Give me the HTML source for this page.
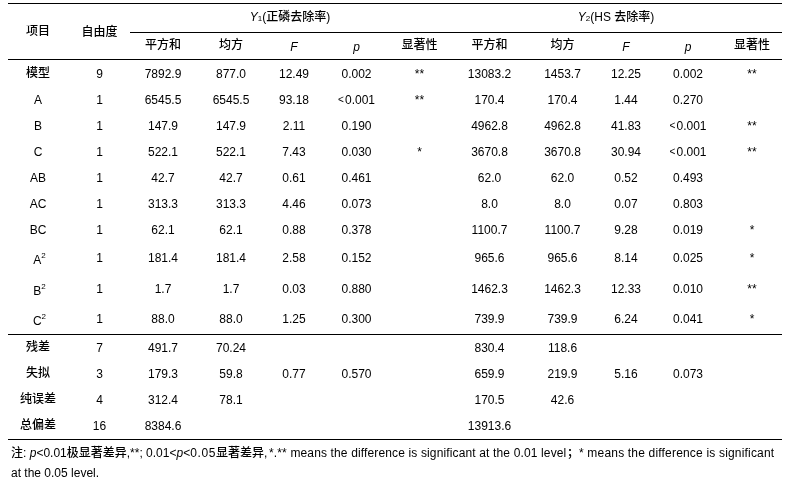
<!DOCTYPE html>
<html><head><meta charset="utf-8"><style>
html,body{margin:0;padding:0;background:#fff;width:787px;height:483px;overflow:hidden}
body{position:relative;font-family:"Liberation Sans","Noto Sans CJK SC",sans-serif;font-size:12px;color:#000}
.ln{position:absolute;height:1px;background:#000}
.t{position:absolute;width:120px;text-align:center;line-height:14px;white-space:nowrap;font-size:12px}
.k,.k2{font-family:"Noto Sans CJK SC",sans-serif;font-weight:500}
sup{font-size:8px;vertical-align:baseline;position:relative;top:-6px;line-height:0}
.sub{font-size:8px;vertical-align:baseline}
.lt{font-size:10px;vertical-align:1px;margin:0 1.2px 0 0;line-height:0}
.fs{position:absolute;white-space:nowrap;line-height:20px;font-size:12px}
.fs .k2{line-height:12px}
</style></head><body>
<div class="ln" style="left:8px;top:3px;width:774px"></div>
<div class="ln" style="left:130px;top:32px;width:652px"></div>
<div class="ln" style="left:8px;top:59px;width:774px"></div>
<div class="ln" style="left:8px;top:334px;width:774px"></div>
<div class="ln" style="left:8px;top:439px;width:774px"></div>
<div class="t k" style="left:-22.0px;top:23.0px">项目</div>
<div class="t k" style="left:39.5px;top:24.0px">自由度</div>
<div class="t" style="left:230.0px;top:9.0px"><i>Y</i><span class="sub">1</span>(<span class="k2">正磷去除率</span>)</div>
<div class="t" style="left:556.0px;top:9.0px"><i>Y</i><span class="sub">2</span>(HS <span class="k2">去除率</span>)</div>
<div class="t k" style="left:103.0px;top:37.0px">平方和</div>
<div class="t k" style="left:171.0px;top:37.0px">均方</div>
<div class="t" style="left:234.0px;top:40.0px"><i>F</i></div>
<div class="t" style="left:296.5px;top:40.0px"><i>p</i></div>
<div class="t k" style="left:359.5px;top:37.0px">显著性</div>
<div class="t k" style="left:429.5px;top:37.0px">平方和</div>
<div class="t k" style="left:502.5px;top:37.0px">均方</div>
<div class="t" style="left:566.0px;top:40.0px"><i>F</i></div>
<div class="t" style="left:628.0px;top:40.0px"><i>p</i></div>
<div class="t k" style="left:692.0px;top:37.0px">显著性</div>
<div class="t k" style="left:-22.0px;top:65.0px">模型</div>
<div class="t" style="left:39.5px;top:67.0px">9</div>
<div class="t" style="left:103.0px;top:67.0px">7892.9</div>
<div class="t" style="left:171.0px;top:67.0px">877.0</div>
<div class="t" style="left:234.0px;top:67.0px">12.49</div>
<div class="t" style="left:296.5px;top:67.0px">0.002</div>
<div class="t" style="left:359.5px;top:67.0px;">**</div>
<div class="t" style="left:429.5px;top:67.0px">13083.2</div>
<div class="t" style="left:502.5px;top:67.0px">1453.7</div>
<div class="t" style="left:566.0px;top:67.0px">12.25</div>
<div class="t" style="left:628.0px;top:67.0px">0.002</div>
<div class="t" style="left:692.0px;top:67.0px;">**</div>
<div class="t" style="left:-22.0px;top:93.0px">A</div>
<div class="t" style="left:39.5px;top:93.0px">1</div>
<div class="t" style="left:103.0px;top:93.0px">6545.5</div>
<div class="t" style="left:171.0px;top:93.0px">6545.5</div>
<div class="t" style="left:234.0px;top:93.0px">93.18</div>
<div class="t" style="left:296.5px;top:93.0px"><span class="lt">&lt;</span>0.001</div>
<div class="t" style="left:359.5px;top:93.0px;">**</div>
<div class="t" style="left:429.5px;top:93.0px">170.4</div>
<div class="t" style="left:502.5px;top:93.0px">170.4</div>
<div class="t" style="left:566.0px;top:93.0px">1.44</div>
<div class="t" style="left:628.0px;top:93.0px">0.270</div>
<div class="t" style="left:-22.0px;top:119.0px">B</div>
<div class="t" style="left:39.5px;top:119.0px">1</div>
<div class="t" style="left:103.0px;top:119.0px">147.9</div>
<div class="t" style="left:171.0px;top:119.0px">147.9</div>
<div class="t" style="left:234.0px;top:119.0px">2.11</div>
<div class="t" style="left:296.5px;top:119.0px">0.190</div>
<div class="t" style="left:429.5px;top:119.0px">4962.8</div>
<div class="t" style="left:502.5px;top:119.0px">4962.8</div>
<div class="t" style="left:566.0px;top:119.0px">41.83</div>
<div class="t" style="left:628.0px;top:119.0px"><span class="lt">&lt;</span>0.001</div>
<div class="t" style="left:692.0px;top:119.0px;">**</div>
<div class="t" style="left:-22.0px;top:145.0px">C</div>
<div class="t" style="left:39.5px;top:145.0px">1</div>
<div class="t" style="left:103.0px;top:145.0px">522.1</div>
<div class="t" style="left:171.0px;top:145.0px">522.1</div>
<div class="t" style="left:234.0px;top:145.0px">7.43</div>
<div class="t" style="left:296.5px;top:145.0px">0.030</div>
<div class="t" style="left:359.5px;top:145.0px;">*</div>
<div class="t" style="left:429.5px;top:145.0px">3670.8</div>
<div class="t" style="left:502.5px;top:145.0px">3670.8</div>
<div class="t" style="left:566.0px;top:145.0px">30.94</div>
<div class="t" style="left:628.0px;top:145.0px"><span class="lt">&lt;</span>0.001</div>
<div class="t" style="left:692.0px;top:145.0px;">**</div>
<div class="t" style="left:-22.0px;top:171.0px">AB</div>
<div class="t" style="left:39.5px;top:171.0px">1</div>
<div class="t" style="left:103.0px;top:171.0px">42.7</div>
<div class="t" style="left:171.0px;top:171.0px">42.7</div>
<div class="t" style="left:234.0px;top:171.0px">0.61</div>
<div class="t" style="left:296.5px;top:171.0px">0.461</div>
<div class="t" style="left:429.5px;top:171.0px">62.0</div>
<div class="t" style="left:502.5px;top:171.0px">62.0</div>
<div class="t" style="left:566.0px;top:171.0px">0.52</div>
<div class="t" style="left:628.0px;top:171.0px">0.493</div>
<div class="t" style="left:-22.0px;top:197.0px">AC</div>
<div class="t" style="left:39.5px;top:197.0px">1</div>
<div class="t" style="left:103.0px;top:197.0px">313.3</div>
<div class="t" style="left:171.0px;top:197.0px">313.3</div>
<div class="t" style="left:234.0px;top:197.0px">4.46</div>
<div class="t" style="left:296.5px;top:197.0px">0.073</div>
<div class="t" style="left:429.5px;top:197.0px">8.0</div>
<div class="t" style="left:502.5px;top:197.0px">8.0</div>
<div class="t" style="left:566.0px;top:197.0px">0.07</div>
<div class="t" style="left:628.0px;top:197.0px">0.803</div>
<div class="t" style="left:-22.0px;top:223.0px">BC</div>
<div class="t" style="left:39.5px;top:223.0px">1</div>
<div class="t" style="left:103.0px;top:223.0px">62.1</div>
<div class="t" style="left:171.0px;top:223.0px">62.1</div>
<div class="t" style="left:234.0px;top:223.0px">0.88</div>
<div class="t" style="left:296.5px;top:223.0px">0.378</div>
<div class="t" style="left:429.5px;top:223.0px">1100.7</div>
<div class="t" style="left:502.5px;top:223.0px">1100.7</div>
<div class="t" style="left:566.0px;top:223.0px">9.28</div>
<div class="t" style="left:628.0px;top:223.0px">0.019</div>
<div class="t" style="left:692.0px;top:223.0px;">*</div>
<div class="t" style="left:-20.5px;top:253.0px">A<sup>2</sup></div>
<div class="t" style="left:39.5px;top:251.0px">1</div>
<div class="t" style="left:103.0px;top:251.0px">181.4</div>
<div class="t" style="left:171.0px;top:251.0px">181.4</div>
<div class="t" style="left:234.0px;top:251.0px">2.58</div>
<div class="t" style="left:296.5px;top:251.0px">0.152</div>
<div class="t" style="left:429.5px;top:251.0px">965.6</div>
<div class="t" style="left:502.5px;top:251.0px">965.6</div>
<div class="t" style="left:566.0px;top:251.0px">8.14</div>
<div class="t" style="left:628.0px;top:251.0px">0.025</div>
<div class="t" style="left:692.0px;top:251.0px;">*</div>
<div class="t" style="left:-20.5px;top:284.0px">B<sup>2</sup></div>
<div class="t" style="left:39.5px;top:282.0px">1</div>
<div class="t" style="left:103.0px;top:282.0px">1.7</div>
<div class="t" style="left:171.0px;top:282.0px">1.7</div>
<div class="t" style="left:234.0px;top:282.0px">0.03</div>
<div class="t" style="left:296.5px;top:282.0px">0.880</div>
<div class="t" style="left:429.5px;top:282.0px">1462.3</div>
<div class="t" style="left:502.5px;top:282.0px">1462.3</div>
<div class="t" style="left:566.0px;top:282.0px">12.33</div>
<div class="t" style="left:628.0px;top:282.0px">0.010</div>
<div class="t" style="left:692.0px;top:282.0px;">**</div>
<div class="t" style="left:-20.5px;top:314.0px">C<sup>2</sup></div>
<div class="t" style="left:39.5px;top:312.0px">1</div>
<div class="t" style="left:103.0px;top:312.0px">88.0</div>
<div class="t" style="left:171.0px;top:312.0px">88.0</div>
<div class="t" style="left:234.0px;top:312.0px">1.25</div>
<div class="t" style="left:296.5px;top:312.0px">0.300</div>
<div class="t" style="left:429.5px;top:312.0px">739.9</div>
<div class="t" style="left:502.5px;top:312.0px">739.9</div>
<div class="t" style="left:566.0px;top:312.0px">6.24</div>
<div class="t" style="left:628.0px;top:312.0px">0.041</div>
<div class="t" style="left:692.0px;top:312.0px;">*</div>
<div class="t k" style="left:-22.0px;top:339.0px">残差</div>
<div class="t" style="left:39.5px;top:341.0px">7</div>
<div class="t" style="left:103.0px;top:341.0px">491.7</div>
<div class="t" style="left:171.0px;top:341.0px">70.24</div>
<div class="t" style="left:429.5px;top:341.0px">830.4</div>
<div class="t" style="left:502.5px;top:341.0px">118.6</div>
<div class="t k" style="left:-22.0px;top:365.0px">失拟</div>
<div class="t" style="left:39.5px;top:367.0px">3</div>
<div class="t" style="left:103.0px;top:367.0px">179.3</div>
<div class="t" style="left:171.0px;top:367.0px">59.8</div>
<div class="t" style="left:234.0px;top:367.0px">0.77</div>
<div class="t" style="left:296.5px;top:367.0px">0.570</div>
<div class="t" style="left:429.5px;top:367.0px">659.9</div>
<div class="t" style="left:502.5px;top:367.0px">219.9</div>
<div class="t" style="left:566.0px;top:367.0px">5.16</div>
<div class="t" style="left:628.0px;top:367.0px">0.073</div>
<div class="t k" style="left:-22.0px;top:391.0px">纯误差</div>
<div class="t" style="left:39.5px;top:393.0px">4</div>
<div class="t" style="left:103.0px;top:393.0px">312.4</div>
<div class="t" style="left:171.0px;top:393.0px">78.1</div>
<div class="t" style="left:429.5px;top:393.0px">170.5</div>
<div class="t" style="left:502.5px;top:393.0px">42.6</div>
<div class="t k" style="left:-22.0px;top:417.0px">总偏差</div>
<div class="t" style="left:39.5px;top:419.0px">16</div>
<div class="t" style="left:103.0px;top:419.0px">8384.6</div>
<div class="t" style="left:429.5px;top:419.0px">13913.6</div>
<div class="fs" style="left:11.00px;top:443px;letter-spacing:0.000px"><span class="k2">注</span>: <i>p</i>&lt;0.01<span class="k2">极显著差异</span>,**; 0.01&lt;<i>p</i>&lt;<span style="letter-spacing:0.6px">0.05</span><span class="k2">显著差异</span>,</div>
<div class="fs" style="left:269.00px;top:443px;letter-spacing:0.140px">*.** means the difference is significant at the 0.01 level</div>
<div class="fs" style="left:567.00px;top:443px;letter-spacing:0.000px"><span class="k2">；</span></div>
<div class="fs" style="left:579.00px;top:443px;letter-spacing:0.184px">* means the difference is significant</div>
<div class="fs" style="left:11.00px;top:463px;letter-spacing:0.000px">at the 0.05 level.</div>
</body></html>
